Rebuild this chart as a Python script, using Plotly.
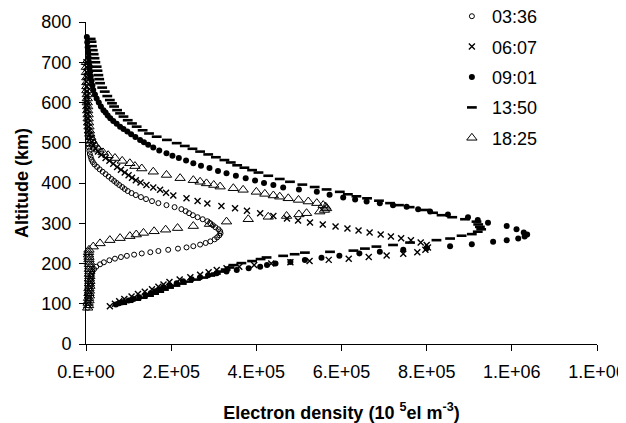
import plotly.graph_objects as go

# Altitude (km) and electron density (thousands el m^-3) for each profile
alt_0336 = [90,96,102,108,114,120,126,132,138,144,150,156,162,168,174,180,186,192,198,203,
            208,212,216,219,222,225,228,231,234,237,240,243,247,251,255,260,265,270,275,280,
            285,290,295,300,305,310,315,320,325,330,335,340,345,350,355,360,365,370,375,380,
            385,390,395,400,405,410,416,422,428,434,440,446,452,458,465,472,480,488,496,505,
            514,524,534,545,556,568,580,592,605,618,632]
den_0336 = [4,6,5,7,6,8,7,9,8,10,9,11,10,12,13,15,19,24,33,42,
            55,68,82,96,113,131,151,170,193,216,236,252,268,281,292,302,308,313,316,315,
            311,304,298,292,285,274,262,251,242,234,224,208,189,170,155,141,129,117,107,98,
            91,85,78,72,66,60,53,46,39,32,26,20,16,13,11,9,8,7,6,5,
            5,4,4,3,3,2,2,2,1,1,1]

alt_0607 = [94,100,106,112,118,124,130,136,142,148,154,160,166,172,178,184,188,192,196,200,
            203,206,209,212,216,220,224,228,234,240,246,252,258,263,267,272,277,282,287,292,
            297,302,307,312,318,325,331,337,343,349,355,362,369,376,383,389,395,401,407,413,
            419,426,433,440,448,455,462,470,478,486,494,502,511,520,530,540,550,560,571,582,
            593,604,616,628,640,652,664,676,688,700]
den_0607 = [56,68,78,90,107,122,138,155,170,182,196,220,245,268,288,307,330,360,395,435,
            480,525,570,617,664,706,745,778,797,803,800,786,763,740,716,692,666,640,614,586,
            556,526,498,472,440,409,378,350,318,285,262,236,205,188,174,158,142,128,117,108,
            100,91,82,73,64,55,46,36,28,22,17,14,11,9,7,6,5,4,4,3,
            3,2,2,2,2,1,1,1,1,1]

alt_0901 = [98,101,104,108,112,116,121,126,131,136,141,146,151,156,161,166,171,176,180,184,
            188,192,196,200,204,209,214,219,225,229,234,238,243,248,254,258,262,267,272,277,
            285,293,301,308,315,322,329,335,341,345,350,354,359,364,371,378,384,389,395,400,
            406,412,418,424,430,437,443,449,456,462,468,474,481,488,495,501,507,514,521,528,
            534,540,547,554,561,568,575,581,590,600,610,620,631,642,654,665,677,689,700,712,
            724,737,750,763]
den_0901 = [70,78,86,100,112,125,140,152,163,172,182,196,213,228,248,268,287,307,330,354,
            382,409,425,445,480,514,553,595,642,690,745,800,855,906,956,988,1015,1030,1036,1028,
            1011,988,944,920,897,850,808,780,753,721,690,659,632,604,572,542,500,463,440,418,
            397,375,352,330,310,290,270,252,235,218,203,189,172,158,146,136,127,116,106,97,
            88,80,72,64,57,51,46,41,35,30,25,21,17,15,13,11,10,9,7,6,
            5,4,3,2]

alt_1350 = [100,105,110,115,120,125,130,135,140,145,150,155,160,165,170,175,180,185,190,196,
            201,206,211,215,219,223,227,229,232,237,242,246,252,258,262,269,273,279,285,291,
            297,304,310,315,320,326,333,340,345,350,356,362,367,372,378,384,390,396,403,410,
            418,426,432,438,444,451,457,464,471,478,485,492,499,507,515,523,531,540,548,556,
            565,573,581,590,598,606,616,627,637,648,658,668,679,689,700,710,720,730,740,751,
            758]
den_1350 = [85,100,118,133,148,160,172,183,195,210,225,240,258,275,292,305,318,328,337,346,
            365,390,410,424,463,490,514,573,628,655,682,721,761,823,855,882,906,920,928,925,
            921,917,890,860,835,815,795,760,735,714,688,660,635,615,596,565,537,508,479,455,
            428,405,390,372,355,340,325,305,287,268,250,232,213,190,166,148,133,119,108,98,
            88,80,73,66,61,56,50,44,38,33,31,29,27,25,22,20,18,16,14,13,
            11]

alt_1825 = [90,96,102,108,114,120,126,132,138,144,150,156,162,168,174,180,186,192,198,204,
            210,216,222,228,234,242,250,258,263,268,272,276,280,284,288,293,298,304,310,316,
            318,322,325,329,333,337,341,345,350,354,358,362,366,369,373,378,383,387,391,395,
            399,403,407,412,420,428,436,442,449,455,462,469,476,483,490,498,506,514,522,530,
            540,550,560,570,580,590,600,610,620,630,640,650,662,675,688,700]
den_1825 = [4,6,5,7,6,8,7,8,7,9,8,9,8,9,8,9,8,9,8,8,
            7,7,6,6,7,17,33,56,80,103,118,135,160,187,215,252,290,330,381,428,
            471,500,518,549,560,565,563,557,542,522,499,475,455,440,420,400,369,346,315,300,
            283,268,252,221,189,158,131,115,103,85,68,52,40,30,24,18,14,11,9,8,
            7,6,5,5,4,4,3,3,3,2,2,2,2,1,1,1]

series_names = ["03:36", "06:07", "09:01", "13:50", "18:25"]
x_tickvals = [0, 2e5, 4e5, 6e5, 8e5, 1e6, 1.2e6]
x_ticktext = ["0.E+00", "2.E+05", "4.E+05", "6.E+05", "8.E+05", "1.E+06", "1.E+06"]
y_tickvals = [0, 100, 200, 300, 400, 500, 600, 700, 800]

FONT = "Liberation Sans, Arial, sans-serif"

styles = [
    dict(symbol="circle-open", size=5, line=dict(width=1, color="black"), color="black"),
    dict(symbol="x-thin", size=6, line=dict(width=1.4, color="black"), color="black"),
    dict(symbol="circle", size=6, line=dict(width=0), color="black"),
    dict(symbol="line-ew", size=7, line=dict(width=2.6, color="black"), color="black"),
    dict(symbol="triangle-up-open", size=9, line=dict(width=1, color="black"), color="black"),
]

data = [(alt_0336, den_0336), (alt_0607, den_0607), (alt_0901, den_0901),
        (alt_1350, den_1350), (alt_1825, den_1825)]

fig = go.Figure()
for name, (alt, den), st in zip(series_names, data, styles):
    fig.add_trace(go.Scatter(
        x=[d * 1e3 for d in den], y=alt, mode="markers", name=name,
        legendgroup=name, marker=st, cliponaxis=False,
    ))

# the page places the figure 8 px in from the top-left corner
fig.update_layout(
    width=618, height=415,
    margin=dict(l=78, r=29, t=14, b=79, autoexpand=False),
    paper_bgcolor="white", plot_bgcolor="white",
    font=dict(family=FONT, size=18, color="black"),
    showlegend=True,
    legend=dict(x=0.716, y=1.0745, xanchor="left", yanchor="top",
                bgcolor="rgba(0,0,0,0)", borderwidth=0,
                font=dict(family=FONT, size=18, color="black"),
                tracegroupgap=4, itemwidth=30),
    xaxis=dict(range=[0, 1.2e6], tickvals=x_tickvals, ticktext=x_ticktext,
               automargin=False,
               showgrid=False, zeroline=False, showline=True, linecolor="black",
               linewidth=1, ticks="outside", ticklen=6, tickcolor="black",
               ticklabelstandoff=5,
               tickfont=dict(family=FONT, size=18, color="black"),
               title=dict(text="<b>Electron density (10 <sup>5</sup>el m<sup>-3</sup>)</b>",
                          font=dict(family=FONT, size=18, color="black"), standoff=25)),
    yaxis=dict(range=[0, 800], tickvals=y_tickvals,
               automargin=False,
               showgrid=False, zeroline=False, showline=True, linecolor="black",
               linewidth=1, ticks="outside", ticklen=6, tickcolor="black",
               ticklabelstandoff=4,
               tickfont=dict(family=FONT, size=18, color="black"),
               title=dict(text="<b>Altitude (km)</b>",
                          font=dict(family=FONT, size=18, color="black"), standoff=8)),
)

fig.write_html("out.html")
